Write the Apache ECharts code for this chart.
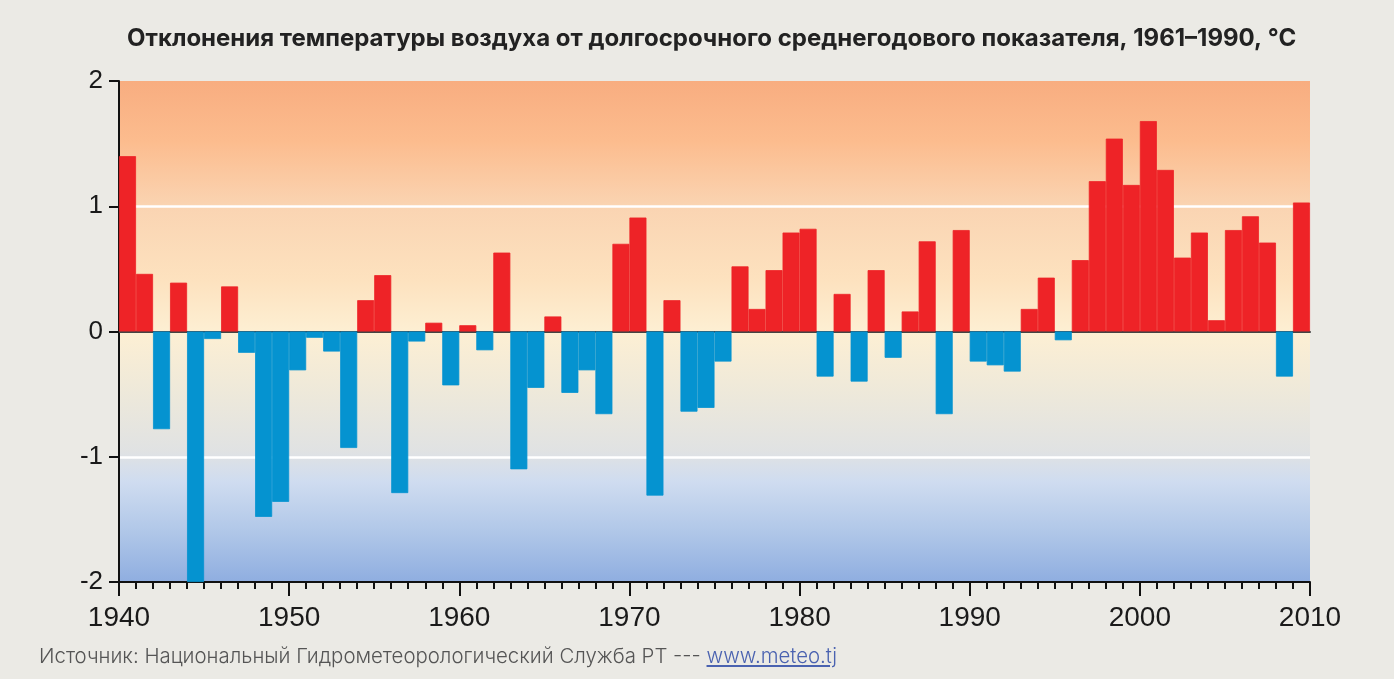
<!DOCTYPE html>
<html>
<head>
    <meta charset="utf-8">
    <title>Отклонения температуры воздуха</title>
    <script src="https://cdn.jsdelivr.net/npm/echarts@6/dist/echarts.min.js"></script>
</head>

<style>
    html, body {
        margin: 0;
        padding: 0;
        background: #ebeae5;
    }
    #chart {
        width: 1394px;
        height: 679px;
    }
    #source {
        position: absolute;
        left: 39px;
        top: 643px;
        font-family: Inter, "Noto Sans", sans-serif;
        font-weight: 300;
        font-size: 20.4px;
        color: #555;
        white-space: nowrap;
    }
    #source a {
        color: #4a62b0;
        text-decoration: underline;
    }
</style>

<body>

<div id="chart"></div>
<div id="source">Источник: Национальный Гидрометеорологический Служба РТ --- <a href="#">www.meteo.tj</a></div>

<script>
    var title = 'Отклонения температуры воздуха от долгосрочного среднегодового показателя, 1961–1990, °C';

    // годы (по одному столбику на год)
    var years = [
        1940, 1941, 1942, 1943, 1944, 1945, 1946, 1947, 1948, 1949,
        1950, 1951, 1952, 1953, 1954, 1955, 1956, 1957, 1958, 1959,
        1960, 1961, 1962, 1963, 1964, 1965, 1966, 1967, 1968, 1969,
        1970, 1971, 1972, 1973, 1974, 1975, 1976, 1977, 1978, 1979,
        1980, 1981, 1982, 1983, 1984, 1985, 1986, 1987, 1988, 1989,
        1990, 1991, 1992, 1993, 1994, 1995, 1996, 1997, 1998, 1999,
        2000, 2001, 2002, 2003, 2004, 2005, 2006, 2007, 2008, 2009
    ];

    // отклонение, °C
    var anomaly = [
         1.40,  0.46, -0.78,  0.39, -2.00, -0.06,  0.36, -0.17, -1.48, -1.36,
        -0.31, -0.05, -0.16, -0.93,  0.25,  0.45, -1.29, -0.08,  0.07, -0.43,
         0.05, -0.15,  0.63, -1.10, -0.45,  0.12, -0.49, -0.31, -0.66,  0.70,
         0.91, -1.31,  0.25, -0.64, -0.61, -0.24,  0.52,  0.18,  0.49,  0.79,
         0.82, -0.36,  0.30, -0.40,  0.49, -0.21,  0.16,  0.72, -0.66,  0.81,
        -0.24, -0.27, -0.32,  0.18,  0.43, -0.07,  0.57,  1.20,  1.54,  1.17,
         1.68,  1.29,  0.59,  0.79,  0.09,  0.81,  0.92,  0.71, -0.36,  1.03
    ];

    var warmColor = '#ee2327';
    var coldColor = '#0593d0';

    // цвет столбика по знаку отклонения
    var barData = anomaly.map(function (v) {
        var c = v >= 0 ? warmColor : coldColor;
        return {value: v, itemStyle: {color: c, borderColor: c, borderWidth: 0.8}};
    });

    var chart = echarts.init(document.getElementById('chart'));

    var option = {
        backgroundColor: '#ebeae5',
        title: {
            text: title,
            left: 122,
            top: 22,
            textStyle: {
                fontFamily: 'Inter',
                fontWeight: 700,
                fontSize: 24,
                color: '#222'
            }
        },
        grid: {
            left: 119,
            right: 84,
            top: 81,
            bottom: 97,
            containLabel: false,
            outerBoundsMode: 'none',
            show: true,
            borderWidth: 0,
            backgroundColor: new echarts.graphic.LinearGradient(0, 0, 0, 1, [
                {offset: 0.00, color: '#f8ad80'},
                {offset: 0.12, color: '#fcbc8e'},
                {offset: 0.25, color: '#fad4b2'},
                {offset: 0.40, color: '#fde2bf'},
                {offset: 0.50, color: '#fdefd3'},
                {offset: 0.62, color: '#eee9da'},
                {offset: 0.74, color: '#e0e2e3'},
                {offset: 0.80, color: '#cfdcf0'},
                {offset: 0.90, color: '#b0c7e8'},
                {offset: 1.00, color: '#8faee0'}
            ])
        },
        xAxis: [{
            // ось для столбиков, линия на нуле
            type: 'category',
            data: years,
            position: 'bottom',
            boundaryGap: true,
            axisLine: {
                onZero: true,
                lineStyle: {color: '#444', width: 2}
            },
            axisTick: {show: false},
            axisLabel: {show: false},
            splitLine: {show: false}
        }, {
            // засечки по годам
            type: 'value',
            position: 'bottom',
            min: 1940,
            max: 2010,
            interval: 1,
            axisLine: {
                show: true,
                onZero: false,
                lineStyle: {color: '#111', width: 2}
            },
            axisTick: {
                show: true,
                length: 7,
                lineStyle: {color: '#111', width: 2}
            },
            axisLabel: {show: false},
            splitLine: {show: false}
        }, {
            // видимая шкала годов
            type: 'value',
            position: 'bottom',
            min: 1940,
            max: 2010,
            interval: 10,
            axisLine: {
                show: false,
                onZero: false
            },
            axisTick: {
                length: 14,
                lineStyle: {color: '#111', width: 2}
            },
            axisLabel: {
                margin: 22,
                fontFamily: 'Liberation Sans',
                fontSize: 28,
                color: '#1a1a1a',
                showMinLabel: true,
                showMaxLabel: true,
                formatter: function (v) {
                    return String(v);
                }
            },
            splitLine: {show: false}
        }],
        yAxis: {
            type: 'value',
            min: -2,
            max: 2,
            interval: 1,
            axisLine: {
                show: true,
                onZero: false,
                lineStyle: {color: '#111', width: 2}
            },
            axisTick: {
                show: true,
                length: 10,
                lineStyle: {color: '#111', width: 2}
            },
            axisLabel: {
                margin: 16,
                fontFamily: 'Liberation Sans',
                fontSize: 26,
                color: '#1a1a1a'
            },
            splitLine: {
                show: true,
                lineStyle: {
                    width: 2.5,
                    color: ['rgba(0,0,0,0)', '#ffffff', 'rgba(0,0,0,0)', '#ffffff', 'rgba(0,0,0,0)']
                }
            }
        },
        series: [{
            type: 'bar',
            xAxisIndex: 0,
            data: barData,
            barCategoryGap: '0%',
            silent: true,
            animation: false
        }]
    };

    chart.setOption(option);
</script>

</body>
</html>
